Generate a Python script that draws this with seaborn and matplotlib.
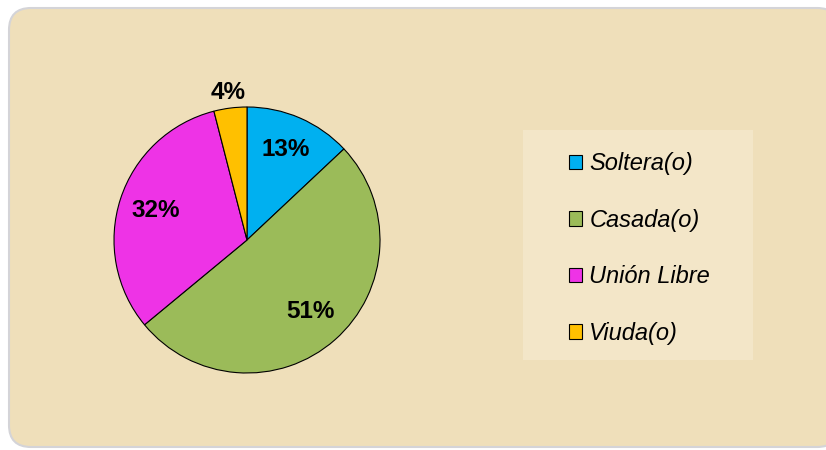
import numpy as np
import matplotlib
matplotlib.use("Agg")
import matplotlib.pyplot as plt
from matplotlib.patches import FancyBboxPatch, Rectangle
import seaborn as sns

# Data
categories = ["Soltera(o)", "Casada(o)", "Unión Libre", "Viuda(o)"]
percentages = [13, 51, 32, 4]
colors = ["#00B0F0", "#9BBB59", "#EE33E6", "#FFC000"]
label_dist = [0.74, 0.72, 0.72, 1.12]

sns.set_theme(style="white")
plt.rcParams["font.family"] = ["Liberation Sans", "DejaVu Sans"]

W, H = 826, 450
fig = plt.figure(figsize=(W / 100, H / 100), dpi=100)
fig.patch.set_facecolor("white")

# parchment panel with rounded corners
bg = fig.add_axes([0, 0, 1, 1])
bg.set_xlim(0, W)
bg.set_ylim(H, 0)
bg.axis("off")
bg.add_patch(FancyBboxPatch((9, 8), 830, 439, boxstyle="round,pad=0,rounding_size=22",
                            facecolor="#EFDFBA", edgecolor="#D4D4D8", linewidth=1.5))
# legend panel
bg.add_patch(Rectangle((523, 130), 230, 230, facecolor="#F3E6C8", edgecolor="none"))

# pie
cx, cy, r = 247, 240, 133
ax = fig.add_axes([(cx - r) / W, (H - cy - r) / H, 2 * r / W, 2 * r / H])
wedges, _ = ax.pie(percentages, colors=colors, startangle=90, counterclock=False,
                   wedgeprops=dict(edgecolor="black", linewidth=0.8))
ax.set_xlim(-1, 1)
ax.set_ylim(-1, 1)
ax.set_aspect("equal")
ax.axis("off")

for w, p, d in zip(wedges, percentages, label_dist):
    ang = np.deg2rad((w.theta1 + w.theta2) / 2)
    ax.text(d * np.cos(ang), d * np.sin(ang), f"{p}%", ha="center", va="center",
            fontsize=17.5, fontweight="bold", color="black", clip_on=False)

leg = fig.legend(wedges, categories, loc="upper left",
                 bbox_to_anchor=(548 / W, 1 - 131 / H), frameon=False,
                 prop=dict(size=17, style="italic"), labelspacing=1.42,
                 handlelength=0.55, handleheight=0.55, handletextpad=0.3)
for t in leg.get_texts():
    t.set_color("black")

fig.savefig("out.png", dpi=100)
